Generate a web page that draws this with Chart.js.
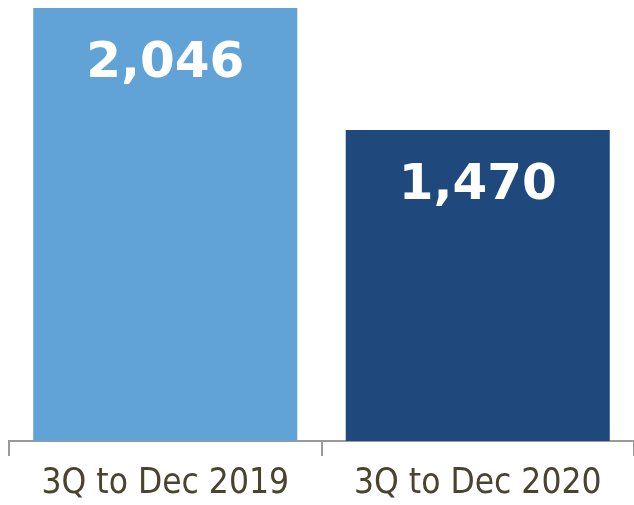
<!DOCTYPE html>
<html lang="en">
<head>
  <meta charset="UTF-8" />
  <title>3Q to Dec comparison</title>
  <script src="https://cdn.jsdelivr.net/npm/chart.js@4.4.0/dist/chart.umd.min.js"></script>
  <style>
    * { margin: 0; padding: 0; box-sizing: border-box; }
    body { background: #ffffff; width: 634px; height: 505px; overflow: hidden; }
  </style>
</head>
<body>
  <canvas id="chart" width="634" height="505"></canvas>

  <script>
    // Chart data
    const periods = ['3Q to Dec 2019', '3Q to Dec 2020'];
    const totals = [2046, 1470];
    const barColors = ['#62A3D7', '#1F497C'];

    // Draw the value inside the top of each bar
    const valueLabels = {
      id: 'valueLabels',
      afterDatasetsDraw(chart) {
        const ctx = chart.ctx;
        const meta = chart.getDatasetMeta(0);
        ctx.save();
        ctx.fillStyle = '#ffffff';
        ctx.font = 'bold 50px "DejaVu Sans", Verdana, sans-serif';
        ctx.textAlign = 'center';
        ctx.textBaseline = 'middle';
        meta.data.forEach((bar, i) => {
          ctx.fillText(totals[i].toLocaleString('en-US'), bar.x, bar.y + 56);
        });
        ctx.restore();
      }
    };

    new Chart(document.getElementById('chart'), {
      type: 'bar',
      data: {
        labels: periods,
        datasets: [{
          data: totals,
          backgroundColor: barColors,
          barPercentage: 0.845,
          categoryPercentage: 1.0
        }]
      },
      options: {
        responsive: false,
        animation: false,
        layout: { padding: { left: 9, right: 0, top: 0, bottom: 0 } },
        plugins: {
          legend: { display: false },
          tooltip: { enabled: false }
        },
        scales: {
          x: {
            offset: true,
            afterFit(scale) { scale.height = 64; },
            grid: {
              offset: true,
              drawOnChartArea: false,
              tickLength: 15,
              color: '#9a9a9a',
              lineWidth: 2
            },
            border: { display: true, color: '#9a9a9a', width: 2 },
            ticks: {
              color: '#4A4330',
              padding: 8,
              font: { family: '"DejaVu Sans Condensed", sans-serif', size: 35, lineHeight: 1.15 }
            }
          },
          y: {
            display: false,
            min: 0,
            max: 2084
          }
        }
      },
      plugins: [valueLabels]
    });
  </script>
</body>
</html>
